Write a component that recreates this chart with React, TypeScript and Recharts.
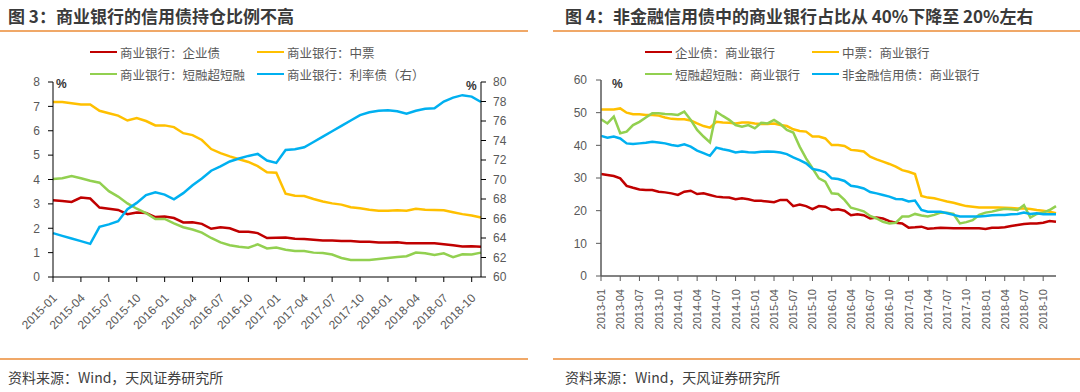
import React from "react";
import { LineChart, Line, XAxis, YAxis } from "recharts";

// month labels, yyyy-mm
const monthRange = (y: number, m: number, n: number) => {
  const out: string[] = [];
  for (let k = 0; k < n; k++) {
    const mm = ((m - 1 + k) % 12) + 1;
    const yy = y + Math.floor((m - 1 + k) / 12);
    out.push(`${yy}-${mm < 10 ? "0" + mm : mm}`);
  }
  return out;
};

// 图3: 2015-01 .. 2018-11
const monthsA = monthRange(2015, 1, 47);
const bankCorp = [3.15, 3.12, 3.08, 3.26, 3.22, 2.85, 2.8, 2.75, 2.58, 2.65, 2.63, 2.46, 2.48, 2.42, 2.24, 2.25, 2.18, 1.98, 2.04, 2.0, 1.86, 1.86, 1.8, 1.6, 1.61, 1.62, 1.57, 1.56, 1.53, 1.5, 1.5, 1.48, 1.48, 1.45, 1.45, 1.42, 1.42, 1.43, 1.38, 1.38, 1.38, 1.38, 1.34, 1.3, 1.25, 1.26, 1.24];
const bankMtn = [7.18, 7.18, 7.13, 7.08, 7.08, 6.82, 6.72, 6.62, 6.42, 6.52, 6.4, 6.22, 6.22, 6.15, 5.9, 5.82, 5.62, 5.25, 5.08, 4.95, 4.83, 4.72, 4.55, 4.3, 4.28, 3.42, 3.33, 3.32, 3.2, 3.1, 3.02, 2.97, 2.86, 2.82, 2.76, 2.72, 2.72, 2.74, 2.72, 2.8, 2.76, 2.75, 2.74, 2.66, 2.58, 2.52, 2.44];
const bankCp = [4.02, 4.05, 4.14, 4.05, 3.95, 3.87, 3.52, 3.3, 3.02, 2.8, 2.62, 2.38, 2.38, 2.2, 2.04, 1.95, 1.82, 1.6, 1.42, 1.3, 1.24, 1.2, 1.34, 1.17, 1.21, 1.12, 1.07, 1.07, 1.0, 0.98, 0.92, 0.78, 0.7, 0.7, 0.7, 0.74, 0.78, 0.82, 0.85, 1.0, 0.97, 0.9, 0.97, 0.81, 0.93, 0.92, 1.0];
const bankRate = [64.5, 64.22, 63.95, 63.68, 63.4, 65.15, 65.4, 65.72, 66.95, 67.6, 68.4, 68.68, 68.45, 67.97, 68.6, 69.4, 70.1, 70.9, 71.35, 71.85, 72.15, 72.42, 72.62, 71.95, 71.7, 73.02, 73.1, 73.3, 73.85, 74.4, 74.95, 75.5, 76.05, 76.6, 76.9, 77.05, 77.1, 77.0, 76.75, 77.05, 77.25, 77.3, 78.0, 78.4, 78.65, 78.5, 77.95];

// 图4: 2013-01 .. 2018-12
const monthsB = monthRange(2013, 1, 72);
const corpShare = [31.2, 30.9, 30.6, 29.9, 27.6, 27.0, 26.5, 26.3, 26.3, 25.8, 25.6, 25.3, 24.8, 25.8, 26.1, 25.1, 25.3, 24.8, 24.3, 24.1, 24.0, 23.5, 23.8, 23.5, 23.0, 23.0, 22.8, 22.6, 23.3, 23.3, 21.4, 21.9, 21.4, 20.5, 21.4, 21.2, 20.2, 20.4, 20.0, 18.6, 18.9, 18.6, 17.6, 17.9, 17.6, 16.8, 16.3, 16.1, 14.8, 14.9, 15.1, 14.5, 14.6, 14.8, 14.7, 14.6, 14.6, 14.6, 14.6, 14.6, 14.4, 14.8, 14.8, 14.9, 15.3, 15.6, 15.9, 16.1, 16.1, 16.3, 16.8, 16.6];
const mtnShare = [51.0, 51.0, 51.0, 51.3, 50.0, 49.5, 49.5, 49.3, 49.3, 49.1, 48.5, 48.1, 48.0, 48.0, 47.6, 46.7, 45.9, 45.4, 47.2, 47.0, 46.9, 46.7, 47.0, 47.0, 46.7, 46.5, 46.5, 46.7, 46.2, 45.9, 44.9, 44.4, 44.2, 42.7, 42.7, 42.1, 40.1, 40.1, 39.8, 38.6, 38.4, 38.1, 36.5, 35.7, 35.0, 34.3, 33.5, 32.4, 31.9, 31.2, 24.5, 24.0, 23.8, 23.3, 22.8, 22.4, 21.9, 21.4, 21.2, 21.0, 21.0, 21.0, 21.0, 20.9, 20.8, 20.7, 20.7, 20.5, 20.2, 20.0, 19.7, 19.2];
const cpShare = [48.0, 46.7, 48.8, 43.7, 44.2, 46.2, 47.2, 48.5, 49.8, 49.8, 49.6, 49.5, 49.3, 50.3, 47.8, 44.7, 42.7, 40.9, 50.3, 49.0, 47.8, 46.2, 45.7, 46.2, 45.2, 46.9, 46.7, 47.8, 46.5, 44.7, 43.9, 39.6, 36.0, 33.0, 29.9, 28.9, 25.3, 25.1, 23.3, 20.9, 20.4, 19.8, 18.4, 17.6, 16.6, 16.1, 16.3, 18.2, 18.2, 19.0, 18.5, 18.2, 18.7, 19.4, 19.4, 19.0, 16.1, 16.5, 17.1, 18.7, 19.4, 19.7, 20.2, 20.6, 20.4, 20.2, 21.7, 17.9, 19.0, 19.4, 20.2, 21.4];
const nonFinShare = [42.9, 42.3, 42.7, 42.1, 40.6, 40.4, 40.6, 40.8, 41.1, 40.9, 40.6, 40.1, 39.8, 40.3, 39.6, 38.4, 37.6, 36.8, 39.3, 38.8, 38.4, 37.8, 38.1, 37.9, 37.8, 38.0, 38.1, 38.0, 37.8, 37.3, 36.3, 35.5, 34.5, 32.8, 32.4, 31.7, 29.9, 29.7, 29.1, 27.6, 27.3, 26.8, 25.7, 25.3, 24.8, 24.3, 23.6, 23.5, 22.8, 23.1, 20.2, 19.7, 19.7, 19.7, 19.2, 18.7, 18.2, 18.2, 18.2, 18.2, 18.4, 18.6, 18.7, 18.7, 18.9, 19.0, 19.4, 19.0, 19.2, 18.9, 18.9, 18.9];

const leftTicks = [0, 1, 2, 3, 4, 5, 6, 7, 8];
const rightTicks = [60, 62, 64, 66, 68, 70, 72, 74, 76, 78, 80];
const shareTicks = [0, 10, 20, 30, 40, 50, 60];

const RED = "#C00000";
const YELLOW = "#FFC000";
const GREEN = "#92D050";
const BLUE = "#00B0F0";
const ORANGE = "#F0A868";

const legendA = [
  { name: "商业银行：企业债", color: RED },
  { name: "商业银行：中票", color: YELLOW },
  { name: "商业银行：短融超短融", color: GREEN },
  { name: "商业银行：利率债（右）", color: BLUE },
];
const legendB = [
  { name: "企业债：商业银行", color: RED },
  { name: "中票：商业银行", color: YELLOW },
  { name: "短融超短融：商业银行", color: GREEN },
  { name: "非金融信用债：商业银行", color: BLUE },
];

const rowsA = monthsA.map((m, i) => ({ month: m, corp: bankCorp[i], mtn: bankMtn[i], cp: bankCp[i], rate: bankRate[i] }));
const rowsB = monthsB.map((m, i) => ({ month: m, corp: corpShare[i], mtn: mtnShare[i], cp: cpShare[i], nonfin: nonFinShare[i] }));

const NUM_FONT = "'Liberation Sans', Arial, sans-serif";
const CJK = "'Noto Sans CJK SC', sans-serif";

const DiagTick = (props: any) => {
  const { x, y, payload } = props;
  const ax = x + 2;
  const ay = y + 12;
  return (
    <text x={ax} y={ay} transform={`rotate(-45 ${ax} ${ay})`} textAnchor="end" dominantBaseline="central"
      fontSize={12} fill="#595959" fontFamily={NUM_FONT}>
      {payload.value}
    </text>
  );
};

const VertTick = (props: any) => {
  const { x, y, payload } = props;
  const ax = x;
  const ay = y + 6;
  return (
    <text x={ax} y={ay} transform={`rotate(-90 ${ax} ${ay})`} textAnchor="end" dominantBaseline="central"
      fontSize={11} fill="#595959" fontFamily={NUM_FONT}>
      {payload.value}
    </text>
  );
};

const Legend2x2 = ({ items, left, top, colGap }: { items: { name: string; color: string }[]; left: number; top: number; colGap: number }) => (
  <div style={{ position: "absolute", left, top, fontFamily: CJK, fontSize: 12.5, color: "#595959" }}>
    {items.map((it, i) => (
      <div key={it.name} style={{
        position: "absolute", left: (i % 2) * colGap, top: Math.floor(i / 2) * 22,
        display: "flex", alignItems: "center", whiteSpace: "nowrap", height: 18,
      }}>
        <span style={{ display: "inline-block", width: 27, height: 2.5, background: it.color, marginRight: 3 }} />
        <span>{it.name}</span>
      </div>
    ))}
  </div>
);

const hline = (left: number, width: number, top: number) => (
  <div style={{ position: "absolute", left, width, top, height: 1.5, background: ORANGE }} />
);

const titleStyle: React.CSSProperties = {
  position: "absolute", top: 3, fontFamily: CJK, fontSize: 17, fontWeight: 700, color: "#3a3a3a", whiteSpace: "nowrap",
};
const sourceStyle: React.CSSProperties = {
  position: "absolute", top: 367, fontFamily: CJK, fontSize: 14, color: "#404040", whiteSpace: "nowrap",
};
const pctStyle: React.CSSProperties = {
  position: "absolute", fontFamily: NUM_FONT, fontSize: 12, color: "#333", fontWeight: 700,
};

export default function App() {
  return (
    <div style={{ position: "absolute", left: 0, top: 0, width: 1080, height: 392, background: "#fff", overflow: "hidden" }}>
      <div style={{ ...titleStyle, left: 8 }}>图 3：商业银行的信用债持仓比例不高</div>
      <div style={{ ...titleStyle, left: 565 }}>图 4：非金融信用债中的商业银行占比从 40%下降至 20%左右</div>
      {hline(0, 528, 30)}
      {hline(553, 527, 30)}
      {hline(0, 528, 358)}
      {hline(553, 527, 358)}
      <div style={{ ...sourceStyle, left: 8 }}>资料来源：Wind，天风证券研究所</div>
      <div style={{ ...sourceStyle, left: 565 }}>资料来源：Wind，天风证券研究所</div>

      <Legend2x2 items={legendA} left={90} top={43} colGap={167} />
      <Legend2x2 items={legendB} left={645} top={43} colGap={167} />

      <div style={{ ...pctStyle, left: 56, top: 77 }}>%</div>
      <div style={{ ...pctStyle, left: 466, top: 79 }}>%</div>
      <div style={{ ...pctStyle, left: 612, top: 77 }}>%</div>

      <div style={{ position: "absolute", left: 0, top: 0 }}>
        <LineChart width={540} height={350} data={rowsA} margin={{ top: 82, right: 19, bottom: 13, left: 0 }}>
          <XAxis dataKey="month" interval={2} height={60} tick={<DiagTick />}
            axisLine={{ stroke: "#000" }} tickLine={{ stroke: "#000" }} tickSize={5} />
          <YAxis yAxisId="l" domain={[0, 8]} ticks={leftTicks} interval={0} width={53} tickSize={5} tickMargin={8}
            axisLine={{ stroke: "#000" }} tickLine={{ stroke: "#000" }}
            tick={{ fontSize: 12, fill: "#595959", fontFamily: NUM_FONT }} />
          <YAxis yAxisId="r" orientation="right" domain={[60, 80]} ticks={rightTicks} interval={0} width={40} tickSize={5} tickMargin={7}
            axisLine={{ stroke: "#000" }} tickLine={{ stroke: "#000" }}
            tick={{ fontSize: 12, fill: "#595959", fontFamily: NUM_FONT, textAnchor: "start" }} />
          <Line yAxisId="l" dataKey="corp" stroke={RED} strokeWidth={2.5} dot={false} isAnimationActive={false} />
          <Line yAxisId="l" dataKey="mtn" stroke={YELLOW} strokeWidth={2.5} dot={false} isAnimationActive={false} />
          <Line yAxisId="l" dataKey="cp" stroke={GREEN} strokeWidth={2.5} dot={false} isAnimationActive={false} />
          <Line yAxisId="r" dataKey="rate" stroke={BLUE} strokeWidth={2.5} dot={false} isAnimationActive={false} />
        </LineChart>
      </div>

      <div style={{ position: "absolute", left: 540, top: 0 }}>
        <LineChart width={540} height={350} data={rowsB} margin={{ top: 80, right: 24, bottom: 14, left: 0 }}>
          <XAxis dataKey="month" interval={2} height={60} tick={<VertTick />}
            axisLine={{ stroke: "#595959", strokeWidth: 1.5 }} tickLine={{ stroke: "#595959" }} tickSize={5} />
          <YAxis domain={[0, 60]} ticks={shareTicks} interval={0} width={61} tickSize={5} tickMargin={9}
            axisLine={{ stroke: "#595959", strokeWidth: 1.5 }} tickLine={{ stroke: "#595959" }}
            tick={{ fontSize: 12, fill: "#595959", fontFamily: NUM_FONT }} />
          <Line dataKey="corp" stroke={RED} strokeWidth={2.5} dot={false} isAnimationActive={false} />
          <Line dataKey="mtn" stroke={YELLOW} strokeWidth={2.5} dot={false} isAnimationActive={false} />
          <Line dataKey="cp" stroke={GREEN} strokeWidth={2.5} dot={false} isAnimationActive={false} />
          <Line dataKey="nonfin" stroke={BLUE} strokeWidth={2.5} dot={false} isAnimationActive={false} />
        </LineChart>
      </div>
    </div>
  );
}
